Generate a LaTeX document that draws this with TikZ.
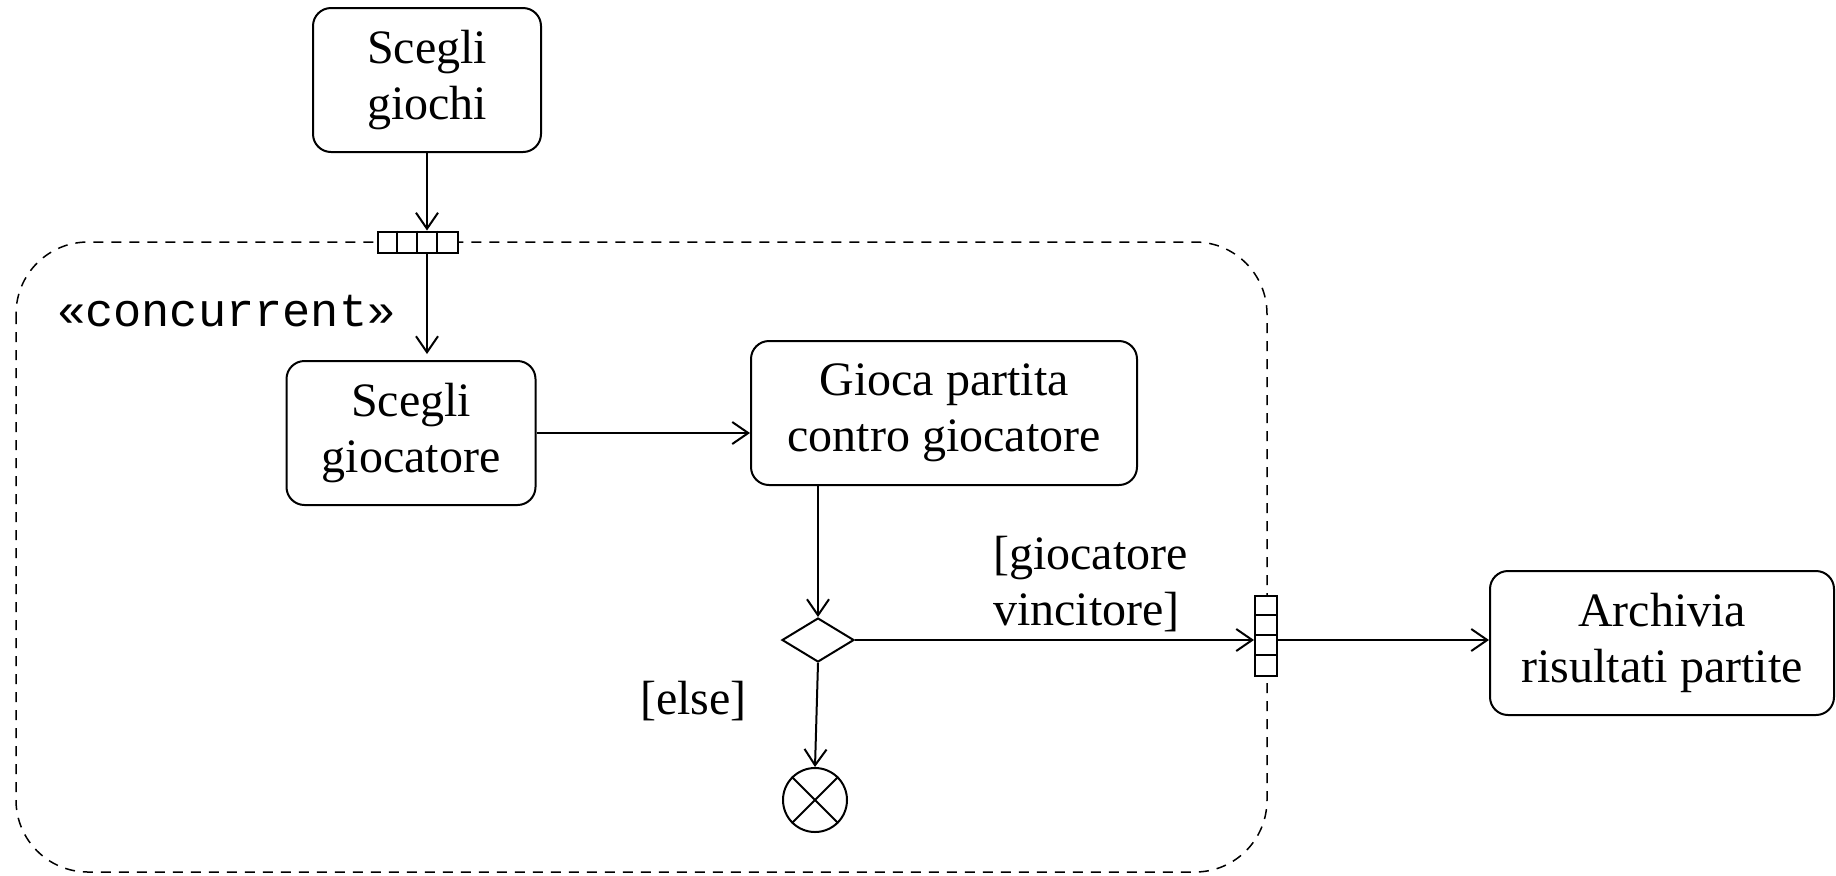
\documentclass[tikz,border=0pt]{standalone}
\usepackage{fontspec}
\setmainfont{Liberation Serif}
\newfontfamily\stereofont{Liberation Mono}
\usetikzlibrary{arrows.meta,shapes.geometric}
\tikzset{%
  >={Straight Barb[length=8pt,width=11pt]},
  % Specifications for style of nodes:
            base/.style = {rectangle, rounded corners=9pt, draw=black, line width=1pt,
                           minimum height=72pt, text centered, align=center},
          action/.style = {base, inner sep=2pt},
          pinbox/.style = {rectangle, draw=black, fill=white, line width=1pt, inner sep=0pt},
        decision/.style = {diamond, draw=black, line width=1pt, inner sep=0pt,
                           minimum width=36pt, minimum height=22pt},
         flowend/.style = {circle, draw=black, line width=1pt, inner sep=0pt, minimum size=32pt},
          region/.style = {draw=black, line width=0.75pt, dash pattern=on 5pt off 4pt,
                           rounded corners=36pt},
           guard/.style = {align=left},
}

\begin{document}
\begin{tikzpicture}[x=0.5pt, y=-0.5pt, line width=1pt,
    font=\fontsize{24}{28}\selectfont]
  \useasboundingbox (0,0) rectangle (1836,875);
  % Expansion region (concurrent)
  \draw[region]			(16,242) rectangle (1267,872);
  \node (stereo)		[anchor=base west, inner sep=0pt,
                         font=\stereofont\fontsize{23.5}{28}\selectfont] at (56,326) {«concurrent»};

  % Actions
  \node (giochi)		[action, minimum width=114pt] at (427,80) {Scegli\\giochi};
  \node (giocatore)		[action, minimum width=124.5pt] at (411,433) {Scegli\\giocatore};
  \node (partita)		[action, minimum width=193pt] at (944,413) {Gioca partita\\contro giocatore};
  \node (archivia)		[action, minimum width=172pt] at (1662,643) {Archivia\\risultati partite};

  \node (decision)		[decision] at (818,640) {};
  \node (final)			[flowend] at (815,800) {};
  \draw (final.north east) -- (final.south west) (final.north west) -- (final.south east);

  % Input / output pins
  \node (pinin)			[pinbox, minimum width=40pt, minimum height=10.5pt] at (418,242) {};
  \node (pinout)		[pinbox, minimum width=11pt, minimum height=40pt] at (1266,636) {};
  \foreach \k in {1,2,3} {
    \draw ([xshift=\k*10pt]pinin.north west) -- ([xshift=\k*10pt]pinin.south west);
    \draw ([yshift=-\k*10pt]pinout.north west) -- ([yshift=-\k*10pt]pinout.north east);
  }

 \draw[->]				(giochi.south) -- (giochi.south |- pinin.north);
 \draw[->]				(giochi.south |- pinin.south) -- ([yshift=3pt]giochi.south |- giocatore.north);
 \draw[->]				(giocatore.east) -- (giocatore.east -| partita.west);
 \draw[->]				(partita.south -| decision.north) -- (decision.north);
 \draw[->]				(decision.south) -- (final.north)
                          node[midway, left, xshift=-31pt, yshift=7pt] {[else]};
 \draw[->]				(decision.east) -- (decision.east -| pinout.west)
                          node[midway, above, xshift=18pt, guard] {[giocatore\\vincitore]};
 \draw[->]				(decision.east -| pinout.east) -- (decision.east -| archivia.west);

\end{tikzpicture}
\end{document}
